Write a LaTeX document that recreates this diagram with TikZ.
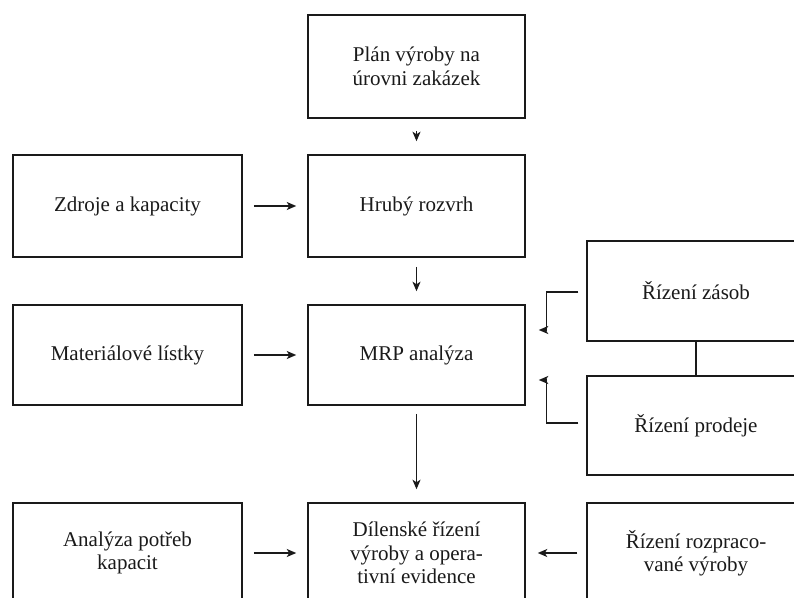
\documentclass[tikz,border=0pt]{standalone}
\usepackage{fontspec}
\setmainfont{Liberation Serif}
\usetikzlibrary{arrows.meta,calc}
\definecolor{ink}{HTML}{1A1A1A}
\begin{document}
\begin{tikzpicture}[x=1pt,y=-1pt,
  box/.style={draw=ink,line width=1.5pt,rectangle,inner sep=0pt,align=center,
    font=\fontsize{21}{23.5}\selectfont,text=ink},
  midbox/.style={box,minimum width=217pt,minimum height=102pt},
  leftbox/.style={box,minimum width=229pt,minimum height=102pt},
  rightbox/.style={box,minimum width=218pt,minimum height=100pt},
  arr/.style={draw=ink,line width=1.4pt,-{Stealth[length=9.5pt,width=8pt,inset=2.5pt]}}]
\clip (0,0) rectangle (794,597);
\fill[white] (0,0) rectangle (794,597);
% middle column
\node[midbox,minimum height=103pt] (plan) at (416.5,66.5) {Plán výroby na\\úrovni zakázek};
\node[midbox] (hruby) at (416.5,206) {Hrubý rozvrh};
\node[midbox,minimum height=100pt] (mrp) at (416.5,355) {MRP analýza};
\node[midbox,minimum height=100pt] (dil) at (416.5,553) {Dílenské řízení\\výroby a opera-\\tivní evidence};
% left column
\node[leftbox] (zdroje) at (127.5,206) {Zdroje a kapacity};
\node[leftbox,minimum height=100pt] (mat) at (127.5,355) {Materiálové lístky};
\node[leftbox,minimum height=100pt] (anal) at (127.5,553) {Analýza potřeb\\kapacit};
% right column
\node[rightbox] (zasob) at (696,291) {Řízení zásob};
\node[rightbox,minimum height=99pt] (prodej) at (696,425.5) {Řízení prodeje};
\node[rightbox] (rozpr) at (696,553) {Řízení rozpraco-\\vané výroby};
% vertical arrows
\draw[arr,shorten <=12pt,shorten >=13pt] (plan) -- (hruby);
\draw[arr,shorten <=9pt,shorten >=13pt] (hruby) -- (mrp);
\draw[arr,shorten <=8pt,shorten >=13pt] (mrp) -- (dil);
% horizontal arrows
\draw[arr,shorten <=11pt,shorten >=11pt] (zdroje) -- (hruby);
\draw[arr,shorten <=11pt,shorten >=11pt] (mat) -- (mrp);
\draw[arr,shorten <=11pt,shorten >=11pt] (anal) -- (dil);
\draw[arr,shorten <=9pt,shorten >=12pt] (rozpr) -- (dil);
% connector between right boxes
\draw[draw=ink,line width=1.4pt] (zasob) -- (prodej);
% elbow arrows
\coordinate (z1) at ($(zasob.west)+(-8,1)$);
\coordinate (p1) at ($(prodej.west)+(-8,-2.5)$);
\coordinate (zt) at ($(mrp.east)+(13,-25)$);
\coordinate (pt) at ($(mrp.east)+(13,25)$);
\draw[arr] (z1) -- ++(-32,0) |- (zt);
\draw[arr] (p1) -- ++(-32,0) |- (pt);
\end{tikzpicture}
\end{document}
